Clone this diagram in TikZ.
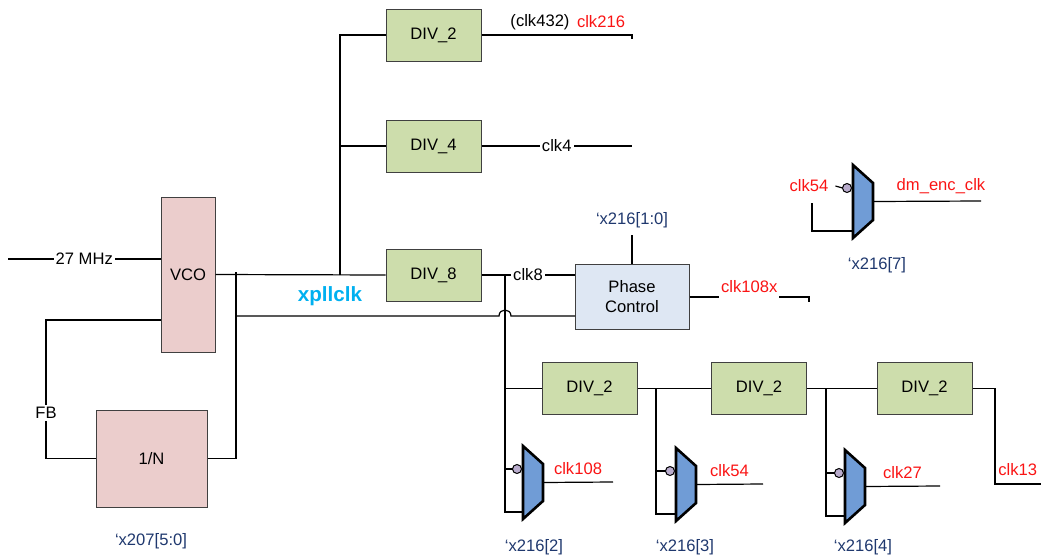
\documentclass[tikz,border=0pt]{standalone}
\usepackage{fontspec}
\setmainfont{Liberation Sans}
\usetikzlibrary{calc}
\definecolor{vcopink}{RGB}{235,205,204}
\definecolor{divgreen}{RGB}{205,221,172}
\definecolor{phblue}{RGB}{222,231,243}
\definecolor{muxblue}{RGB}{112,156,214}
\definecolor{bublav}{RGB}{185,172,205}
\definecolor{selnavy}{RGB}{31,56,110}
\definecolor{pllcyan}{RGB}{0,176,240}
\definecolor{clkred}{RGB}{250,20,20}

\tikzset{
  blk/.style={draw=black!75, line width=0.5pt, inner sep=0pt},
  divbox/.style={blk, fill=divgreen, minimum width=47.5pt, minimum height=26pt},
  wire/.style={line width=0.6pt},
  onl/.style={fill=white, inner sep=1pt},
  sel/.style={text=selnavy},
  clk/.style={text=clkred},
  pics/mux/.style={code={
    \draw[line width=1.3pt, fill=muxblue, line join=miter] (0,0) -- (20,18) -- (20,55) -- (0,73) -- cycle;
    \draw[line width=0.5pt, fill=bublav] (-6,23) circle[radius=2.25pt];
    \coordinate (-in1) at (-10.5,23);
    \coordinate (-in2) at (0,66);
    \coordinate (-out) at (20,36.5);
  }}
}

\begin{document}
\begin{tikzpicture}[x=0.5pt, y=-0.5pt, font=\fontsize{8.3}{10}\selectfont]
  \useasboundingbox (0,0) rectangle (1041,558);

  % PLL core
  \node[blk, fill=vcopink, minimum width=27pt, minimum height=77.5pt] (vco) at (188,274.5) {VCO};
  \node[blk, fill=vcopink, minimum width=55.5pt, minimum height=48.5pt] (ninv) at (151.5,458.5) {1/N};
  \node[sel] (nsel) at (151,541) {‘x207[5:0]};

  % dividers
  \node[divbox] (dtwo)   at (433.5,35)    {DIV\_2};
  \node[divbox] (dfour)  at (433.5,146)   {DIV\_4};
  \node[divbox] (deight) at (433.5,275)   {DIV\_8};
  \node[divbox] (da)     at (589.5,388.5) {DIV\_2};
  \node[divbox] (db)     at (759,388.5)   {DIV\_2};
  \node[divbox] (dc)     at (924.5,388.5) {DIV\_2};

  \node[blk, fill=phblue, minimum width=57pt, minimum height=32.5pt, align=center] (phase) at (632,296.5) {Phase\\Control};
  \node[sel] (psel) at (632,220) {‘x216[1:0]};

  % muxes
  \pic (ma) at (523,446) {mux};
  \pic (mb) at (676,448) {mux};
  \pic (mc) at (845,450) {mux};
  \pic (mt) at (853,165) {mux};
  \node[sel] (sa) at (534,547) {‘x216[2]};
  \node[sel] (sb) at (685,547) {‘x216[3]};
  \node[sel] (sc) at (863,547) {‘x216[4]};
  \node[sel] (st) at (877,265) {‘x216[7]};

  % coordinates
  \coordinate (inl) at (8,259);
  \coordinate (fb) at (46,320);
  \coordinate (tap) at (236,272);
  \coordinate (xin) at (575,316);
  \coordinate (bus) at (340,275);
  \coordinate (br) at (505,275);
  \coordinate (tb) at (656,388.5);
  \coordinate (tc) at (826,388.5);
  \coordinate (o216) at (632,35);
  \coordinate (o4) at (632,146);
  \coordinate (o108x) at (809,297);
  \coordinate (o108) at (613,482);
  \coordinate (o54) at (763,484);
  \coordinate (o27) at (940,486);
  \coordinate (o135) at (995,484);
  \coordinate (oend) at (1041,484);
  \coordinate (oenc) at (981,201);
  \coordinate (fbk) at (812,203);

  % wires
  \draw[wire] (inl) -- node[onl] {27 MHz} (inl -| vco.west);
  \draw[wire] (vco.east) -- (deight.west);
  \draw[wire] (vco.west |- fb) -- (fb) -- node[onl, pos=0.67] {FB} (fb |- ninv) -- (ninv.west);
  \draw[wire] (tap) |- (ninv.east);
  \draw[wire] (tap |- xin) -- ($(br |- xin)+(-6,0)$) .. controls +(0,-8) and +(0,-8) .. ($(br |- xin)+(6,0)$) -- (xin);
  \node[text=pllcyan, font=\fontsize{10.3}{12}\selectfont\bfseries] (xpll) at (330,296) {xpllclk};

  \draw[wire] (bus) |- (dtwo.west);
  \draw[wire] (bus |- dfour) -- (dfour.west);
  \draw[wire] (dtwo.east) -- (o216) -- ++(0,4);
  \node (c432) at (540,22) {(clk432)};
  \node[clk] (c216) at (601,22) {clk216};
  \draw[wire] (dfour.east) -- node[onl] {clk4} (o4);
  \draw[wire] (deight.east) -- node[onl] {clk8} (deight.east -| phase.west);
  \draw[wire] (psel.south |- 0,235) -- (phase.north);
  \draw[wire] (phase.east |- o108x) -- node[onl, clk, anchor=base, inner ysep=3pt, yshift=2.5pt] {clk108x} (o108x) -- ++(0,5);

  % divide chain
  \draw[wire] (br) |- (da.west);
  \draw[wire] (br) |- (ma-in2);
  \draw[wire] (br |- ma-in1) -- (ma-in1);
  \draw[wire] (da.east) -- (db.west);
  \draw[wire] (tb) |- (mb-in2);
  \draw[wire] (tb |- mb-in1) -- (mb-in1);
  \draw[wire] (db.east) -- (dc.west);
  \draw[wire] (tc) |- (mc-in2);
  \draw[wire] (tc |- mc-in1) -- (mc-in1);
  \draw[wire] (dc.east) -| (o135) -- (oend);
  \node[clk, anchor=west, inner sep=0.5pt] (c135) at (997,470) {clk13};

  \draw[wire] (ma-out) -- node[clk, above] {clk108} (o108);
  \draw[wire] (mb-out) -- node[clk, above] {clk54} (o54);
  \draw[wire] (mc-out) -- node[clk, above] {clk27} (o27);

  % encoder clock
  \node[clk] (c54) at (809,186) {clk54};
  \draw[wire] (c54.east) -- (mt-in1);
  \draw[wire] (fbk) |- (mt-in2);
  \draw[wire] (mt-out) -- node[clk, above, xshift=7pt] {dm\_enc\_clk} (oenc);
\end{tikzpicture}
\end{document}
